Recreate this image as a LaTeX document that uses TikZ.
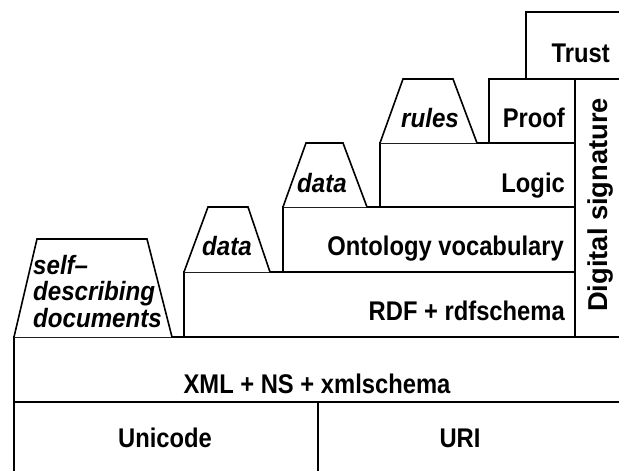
\documentclass[tikz,border=0pt]{standalone}
\usepackage{fontspec}
\setmainfont{Liberation Sans}
\usepackage{graphicx}
\newcommand\hlab[1]{\scalebox{0.88}[1]{\bfseries #1}}
\newcommand\ilab[1]{\scalebox{0.91}[1]{\bfseries\itshape #1}}
\begin{document}
\begin{tikzpicture}[x=1pt,y=-1pt,
  layer/.style={draw=black,line width=1.6pt,fill=white},
  txt/.style={inner sep=0pt,font=\fontsize{27}{27}\selectfont},
  itxt/.style={inner sep=0pt,font=\fontsize{26.5}{26.5}\selectfont},
  vtxt/.style={inner sep=0pt,font=\fontsize{27.3}{27.3}\selectfont\bfseries}]
\useasboundingbox (0,0) rectangle (619,471);
\begin{scope}
\clip (0,0) rectangle (619,471);
% bottom layers
\draw[layer] (14,402) rectangle (318,485);
\draw[layer] (318,402) rectangle (635,485);
\draw[layer] (14,337) rectangle (635,402);
% self-describing documents
\draw[layer,line join=miter] (14,337) -- (37,239) -- (147,239) -- (172,337);
% RDF layer and data
\draw[layer] (184,272) rectangle (575,337);
\draw[layer] (184,272) -- (208,207) -- (248,207) -- (270,272);
% Ontology and data
\draw[layer] (283,207) rectangle (575,272);
\draw[layer] (283,207) -- (306,143) -- (343,143) -- (367,207);
% Logic and rules
\draw[layer] (380,143) rectangle (575,207);
\draw[layer] (380,143) -- (403,79) -- (453,79) -- (477,143);
% Proof
\draw[layer] (489,79) rectangle (575,143);
% Digital signature
\draw[layer] (575,79) rectangle (635,337);
% Trust
\draw[layer] (526,12) rectangle (635,79);
\end{scope}
% texts
\node[txt,anchor=base] (unicode) at (165,447) {\hlab{Unicode}};
\node[txt,anchor=base] (uri) at (460,447) {\hlab{URI}};
\node[txt,anchor=base] (xml) at (317,393) {\hlab{XML + NS + xmlschema}};
\node[txt,anchor=base east] (rdf) at (565,320) {\hlab{RDF + rdfschema}};
\node[txt,anchor=base east] (onto) at (564,255) {\hlab{Ontology vocabulary}};
\node[txt,anchor=base east] (logic) at (565,192) {\hlab{Logic}};
\node[txt,anchor=base east] (proof) at (565,127) {\hlab{Proof}};
\node[txt,anchor=base east] (trust) at (610,62) {\hlab{Trust}};
\node[vtxt,anchor=base west,rotate=90] (dsig) at (607,312) {Digital signature};
\node[itxt,anchor=base west] (sd1) at (33,274) {\ilab{self–}};
\node[itxt,anchor=base west] (sd2) at (33,300) {\ilab{describing}};
\node[itxt,anchor=base west] (sd3) at (33,327) {\ilab{documents}};
\node[itxt,anchor=base] (data1) at (227,255) {\ilab{data}};
\node[itxt,anchor=base] (data2) at (322,192) {\ilab{data}};
\node[itxt,anchor=base] (rules) at (430,127) {\ilab{rules}};
\end{tikzpicture}
\end{document}
